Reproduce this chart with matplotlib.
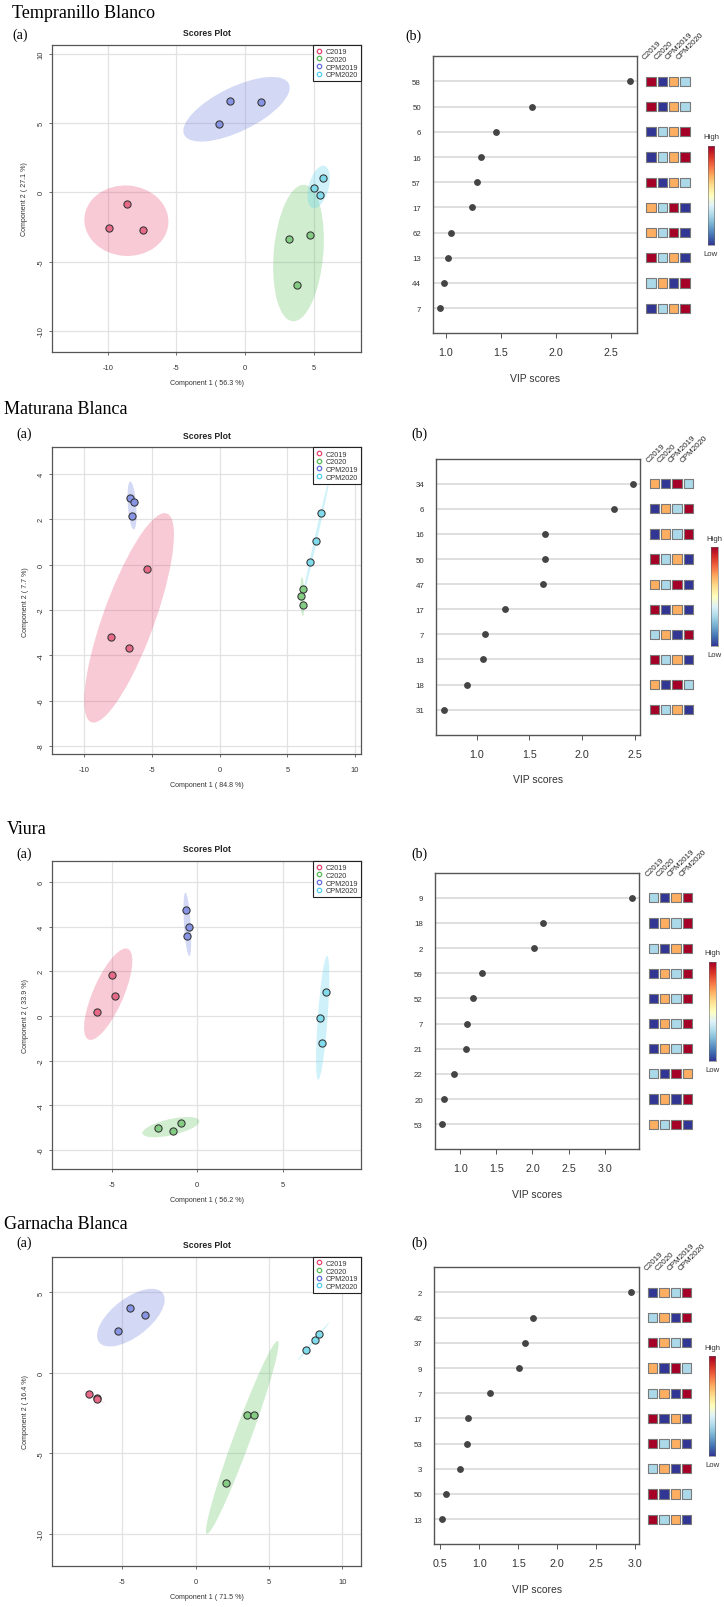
import numpy as np
import matplotlib
matplotlib.use("Agg")
import matplotlib.pyplot as plt
from matplotlib.patches import Ellipse
from matplotlib.lines import Line2D
from matplotlib.ticker import MultipleLocator, FormatStrFormatter

plt.rcParams['font.family'] = ['Liberation Sans', 'DejaVu Sans']
plt.rcParams['axes.unicode_minus'] = False

W, H = 724, 1608

groups = ["C2019", "C2020", "CPM2019", "CPM2020"]

# Tempranillo Blanco (3 samples per group, in group order)
tb_pc1 = [-8.6, -9.9, -7.4, 3.2, 4.7, 3.8, -1.1, 1.15, -1.9, 5.0, 5.65, 5.45]
tb_pc2 = [-0.85, -2.6, -2.7, -3.4, -3.05, -6.7, 6.6, 6.5, 4.9, 0.3, 1.05, -0.2]
tb_expl = (56.3, 27.1)
tb_feat = ["58", "50", "6", "16", "57", "17", "62", "13", "44", "7"]
tb_vip = [2.67, 1.785, 1.457, 1.321, 1.288, 1.236, 1.045, 1.018, 0.988, 0.951]
tb_heat = [[4, 1, 3, 2], [4, 1, 3, 2], [1, 2, 3, 4], [1, 2, 3, 4], [4, 1, 3, 2],
           [3, 2, 4, 1], [3, 2, 4, 1], [4, 2, 3, 1], [2, 3, 1, 4], [1, 2, 3, 4]]

# Maturana Blanca
mb_pc1 = [-5.35, -8.06, -6.69, 6.14, 6.04, 6.16, -6.63, -6.36, -6.46, 7.52, 7.12, 6.70]
mb_pc2 = [-0.18, -3.19, -3.66, -1.06, -1.40, -1.77, 2.96, 2.75, 2.13, 2.28, 1.03, 0.13]
mb_expl = (84.8, 7.7)
mb_feat = ["34", "6", "16", "50", "47", "17", "7", "13", "18", "31"]
mb_vip = [2.481, 2.301, 1.646, 1.643, 1.624, 1.263, 1.073, 1.057, 0.902, 0.684]
mb_heat = [[3, 1, 4, 2], [1, 3, 2, 4], [1, 3, 2, 4], [4, 2, 3, 1], [3, 2, 4, 1],
           [4, 1, 3, 1], [2, 3, 1, 4], [4, 2, 3, 1], [3, 1, 4, 2], [4, 2, 3, 1]]

# Viura
vi_pc1 = [-4.95, -4.78, -5.85, -2.27, -1.42, -0.93, -0.66, -0.48, -0.60, 7.48, 7.17, 7.27]
vi_pc2 = [1.85, 0.90, 0.18, -5.04, -5.14, -4.78, 4.74, 3.98, 3.60, 1.06, -0.10, -1.21]
vi_expl = (56.2, 33.9)
vi_feat = ["9", "18", "2", "59", "52", "7", "21", "22", "20", "53"]
vi_vip = [3.374, 2.150, 2.017, 1.296, 1.176, 1.097, 1.074, 0.917, 0.774, 0.751]
vi_heat = [[2, 1, 3, 4], [1, 3, 2, 4], [2, 1, 3, 4], [1, 3, 2, 4], [1, 3, 2, 4],
           [1, 3, 2, 4], [1, 3, 2, 4], [2, 1, 4, 3], [1, 3, 1, 4], [3, 2, 4, 1]]

# Garnacha Blanca
gb_pc1 = [-7.26, -6.75, -6.73, 3.50, 4.00, 2.05, -4.50, -3.44, -5.32, 7.54, 8.16, 8.41]
gb_pc2 = [-1.30, -1.57, -1.61, -2.59, -2.59, -6.83, 4.06, 3.62, 2.63, 1.43, 2.05, 2.40]
gb_expl = (71.5, 16.4)
gb_feat = ["2", "42", "37", "9", "7", "17", "53", "3", "50", "13"]
gb_vip = [2.952, 1.694, 1.591, 1.506, 1.138, 0.851, 0.847, 0.757, 0.569, 0.522]
gb_heat = [[1, 3, 2, 4], [2, 3, 1, 4], [4, 3, 2, 1], [3, 1, 4, 2], [2, 3, 1, 4],
           [4, 1, 3, 1], [4, 2, 3, 1], [2, 3, 1, 4], [4, 1, 3, 2], [4, 2, 3, 1]]

# colours
pt_colors = ['#E66A88', '#84CC84', '#8794E4', '#80DCEC']
ell_colors = ['#E85078', '#66C466', '#7080E0', '#60D4F0']
leg_colors = ['#E8456E', '#55BB55', '#5F70DD', '#4FD0F0']
heat_colors = ['#313695', '#ABD9E9', '#FDAE61', '#A50026']
CHI = np.sqrt(5.991)  # 95% ellipse, 2 dof


def rect(l, t, r, b):
    return [l / W, 1 - b / H, (r - l) / W, (b - t) / H]


fig = plt.figure(figsize=(W / 100, H / 100), dpi=100)


def scores_panel(box, pc1, pc2, expl, xlim, ylim, xstep, ystep):
    ax = fig.add_axes(rect(*box))
    pc1 = np.asarray(pc1)
    pc2 = np.asarray(pc2)
    grp = np.repeat(np.arange(len(groups)), 3)
    for gi in range(len(groups)):
        pts = np.column_stack([pc1[grp == gi], pc2[grp == gi]])
        mu = pts.mean(axis=0)
        vals, vecs = np.linalg.eigh(np.cov(pts.T))
        order = vals.argsort()[::-1]
        vals, vecs = vals[order], vecs[:, order]
        ang = np.degrees(np.arctan2(vecs[1, 0], vecs[0, 0]))
        w, h = 2 * CHI * np.sqrt(np.maximum(vals, 0))
        ax.add_patch(Ellipse(mu, w, h, angle=ang, facecolor=ell_colors[gi],
                             alpha=0.3, edgecolor='none', zorder=1))
    for gi in range(len(groups)):
        ax.scatter(pc1[grp == gi], pc2[grp == gi], s=27, facecolor=pt_colors[gi],
                   edgecolor='#333333', linewidth=0.75, zorder=3)
    ax.set_xlim(*xlim)
    ax.set_ylim(*ylim)
    ax.xaxis.set_major_locator(MultipleLocator(xstep))
    ax.yaxis.set_major_locator(MultipleLocator(ystep))
    ax.grid(True, color='#E2E2E2', lw=0.9)
    ax.set_axisbelow(True)
    for s in ax.spines.values():
        s.set_color('#555555')
        s.set_linewidth(0.9)
    ax.tick_params(length=2.5, width=0.6, color='#555555', labelsize=5.4,
                   labelcolor='#333333')
    ax.tick_params(axis='x', pad=6)
    ax.tick_params(axis='y', pad=3, labelrotation=90)
    for lab in ax.get_yticklabels():
        lab.set_va('center')
    bw = box[2] - box[0]
    bh = box[3] - box[1]
    ax.set_xlabel(f"Component 1 ( {expl[0]} %)", fontsize=5.1, color='#333333', va='center')
    ax.xaxis.set_label_coords(0.5, -30.5 / bh)
    ax.set_ylabel(f"Component 2 ( {expl[1]} %)", fontsize=5.1, color='#333333', va='center')
    ax.yaxis.set_label_coords(-27 / bw, 0.5)
    handles = [Line2D([], [], marker='o', ls='none', mfc='none', mec=c, ms=3.2, mew=0.9)
               for c in leg_colors]
    leg = ax.legend(handles, groups, loc='upper right', borderaxespad=0, fancybox=False,
                    edgecolor='#222222', framealpha=1, fontsize=5.2, handlelength=0.8,
                    handletextpad=0.4, labelspacing=0.08, borderpad=0.45)
    leg.get_frame().set_linewidth(0.8)
    for t in leg.get_texts():
        t.set_color('#333333')
    fig.text(((box[0] + box[2]) / 2) / W, 1 - (box[1] - 12) / H, "Scores Plot",
             fontsize=6.2, fontweight='bold', color='#222222', ha='center', va='center')
    return ax


def vip_panel(box, feat, vip, heat, c1, cbar):
    ax = fig.add_axes(rect(*box))
    n = len(vip)
    ypos = np.arange(n, 0, -1)
    for y in ypos:
        ax.axhline(y, color='#DCDCDC', lw=1.3, zorder=1)
    ax.plot(vip, ypos, 'o', color='#444444', ms=3.9, zorder=3)
    ax.set_ylim(0, n + 1)
    lo, hi = min(vip), max(vip)
    ax.set_xlim(lo - 0.04 * (hi - lo), hi + 0.04 * (hi - lo))
    ax.set_yticks(ypos)
    ax.set_yticklabels(feat)
    ax.xaxis.set_major_locator(MultipleLocator(0.5))
    ax.xaxis.set_major_formatter(FormatStrFormatter('%.1f'))
    ax.tick_params(axis='y', length=0, pad=8.5, labelsize=5.7, labelcolor='#333333')
    ax.tick_params(axis='x', length=3.5, width=0.7, color='#555555', pad=6.5,
                   labelsize=7.7, labelcolor='#333333')
    for s in ax.spines.values():
        s.set_color('#555555')
        s.set_linewidth(1.0)
    ax.set_xlabel("VIP scores", fontsize=7.5, color='#333333', va='center')
    ax.xaxis.set_label_coords(0.5, -44.5 / (box[3] - box[1]))

    sp = 11.33
    hx = fig.add_axes(rect(c1 - sp / 2, box[1], c1 + 3.5 * sp, box[3]))
    hx.set_xlim(0.5, 4.5)
    hx.set_ylim(0, n + 1)
    hx.axis('off')
    cx = np.tile(np.arange(1, 5), n)
    cy = np.repeat(ypos, 4)
    cc = [heat_colors[v - 1] for row in heat for v in row]
    hx.scatter(cx, cy, marker='s', s=44, c=cc, edgecolors='#7A7A7A', linewidths=0.8,
               clip_on=False)
    for j, g in enumerate(groups):
        hx.text(j + 1 - 0.4, n + 0.82, g, rotation=45, rotation_mode='anchor',
                ha='left', va='bottom', fontsize=5.8, color='#222222', clip_on=False)

    cb = fig.add_axes(rect(*cbar))
    cb.imshow(np.linspace(0, 1, 256)[:, None], cmap='RdYlBu_r', aspect='auto',
              origin='lower')
    cb.set_xticks([])
    cb.set_yticks([])
    for s in cb.spines.values():
        s.set_color('#666666')
        s.set_linewidth(0.4)
    xm = (cbar[0] + cbar[2]) / 2 / W
    fig.text(xm, 1 - (cbar[1] - 9) / H, "High", fontsize=5.6, color='#333333',
             ha='center', va='center')
    fig.text(xm, 1 - (cbar[3] + 8.5) / H, "Low", fontsize=5.6, color='#333333',
             ha='center', va='center')
    return ax


def heading(x, y, txt, size=13):
    fig.text(x / W, 1 - y / H, txt, fontsize=size, family='Liberation Serif',
             ha='left', va='center', color='black')


# Tempranillo Blanco
heading(11.7, 14, "Tempranillo Blanco")
heading(12, 35, "(a)", 10)
heading(405, 36.7, "(b)", 10)
scores_panel((52, 46, 361, 353), tb_pc1, tb_pc2, tb_expl, (-14.05, 8.45), (-11.53, 10.64), 5, 5)
vip_panel((432.7, 57.3, 637.3, 334.3), tb_feat, tb_vip, tb_heat, 651, (707.7, 146.7, 714.3, 245.7))

# Maturana Blanca
heading(4, 409, "Maturana Blanca")
heading(16, 434.3, "(a)", 10)
heading(411.7, 434.3, "(b)", 10)
scores_panel((52.3, 448.3, 361, 755), mb_pc1, mb_pc2, mb_expl, (-12.38, 10.45), (-8.35, 5.18), 5, 2)
vip_panel((436, 459.7, 640.3, 735.7), mb_feat, mb_vip, mb_heat, 654.3, (710.7, 548.3, 717.7, 647.3))

# Viura
heading(6.7, 829.3, "Viura")
heading(16, 854, "(a)", 10)
heading(411.7, 854, "(b)", 10)
scores_panel((52.3, 862, 361, 1169.7), vi_pc1, vi_pc2, vi_expl, (-8.45, 9.54), (-6.85, 6.95), 5, 2)
vip_panel((434.7, 873.7, 639.3, 1150.3), vi_feat, vi_vip, vi_heat, 653.3, (709.3, 962.7, 716, 1061.7))

# Garnacha Blanca
heading(4, 1225, "Garnacha Blanca")
heading(16, 1243.3, "(a)", 10)
heading(411.7, 1243.3, "(b)", 10)
scores_panel((52.3, 1257.7, 361, 1566.7), gb_pc1, gb_pc2, gb_expl, (-9.78, 11.28), (-11.97, 7.22), 5, 5)
vip_panel((434.3, 1268.3, 639, 1545.3), gb_feat, gb_vip, gb_heat, 652.7, (708.7, 1357.3, 715.3, 1456.7))

fig.savefig("out.png", dpi=100)
